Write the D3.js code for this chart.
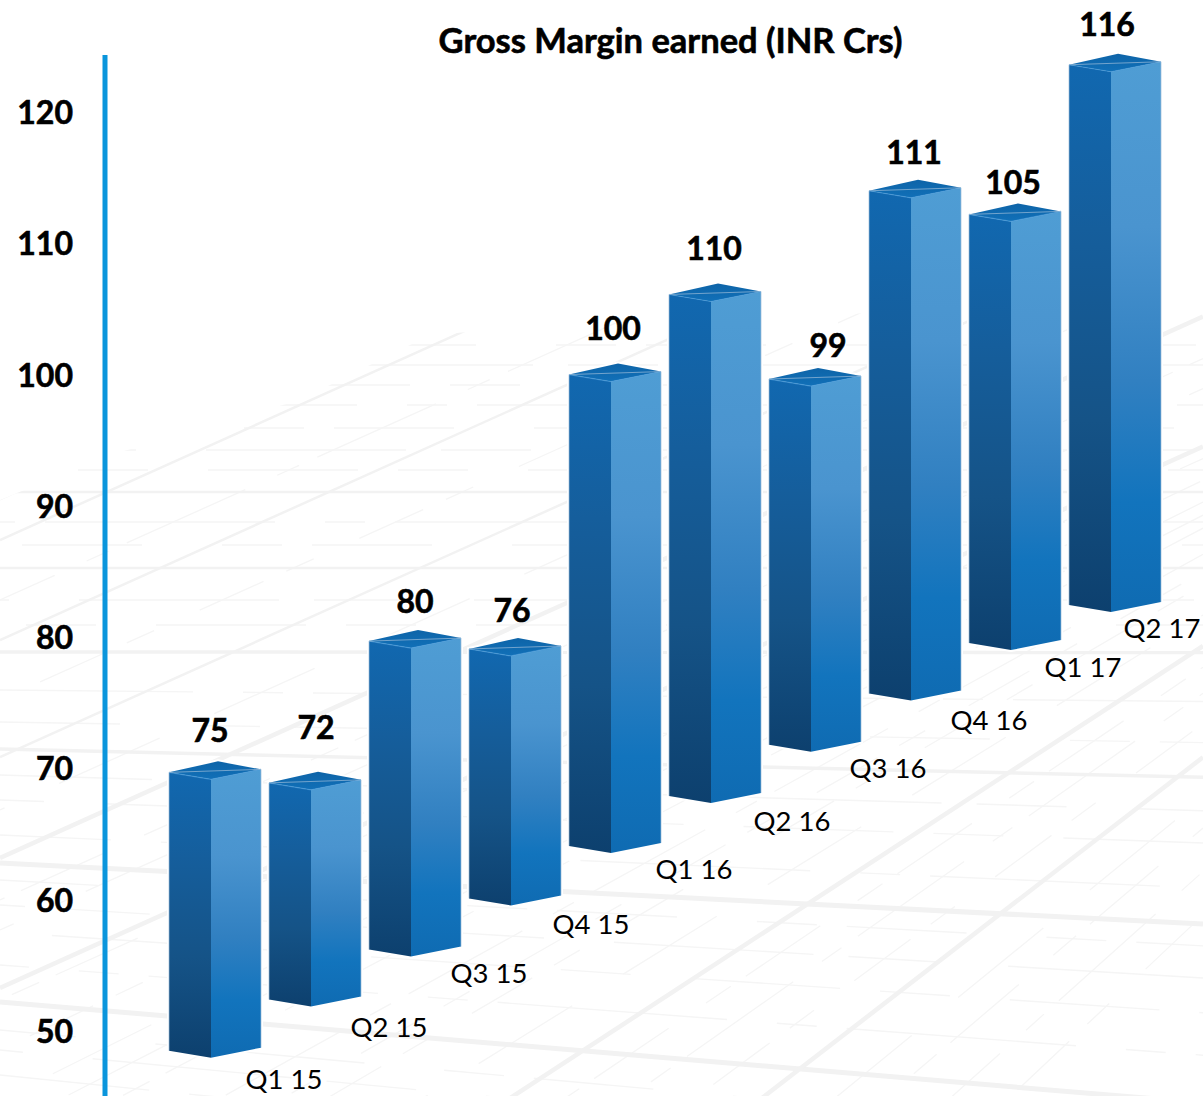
<!DOCTYPE html>
<html>
<head>
<meta charset="utf-8">
<script src="https://cdn.jsdelivr.net/npm/d3@7"></script>
<style>
  html, body { margin: 0; padding: 0; background: #fff; }
  svg { display: block; font-family: Lato, "Open Sans", sans-serif; }
</style>
</head>
<body>
<div id="chart"></div>
<script>
// Quarterly gross margin
const quarters = ["Q1 15","Q2 15","Q3 15","Q4 15","Q1 16","Q2 16","Q3 16","Q4 16","Q1 17","Q2 17"];
const grossMargin = [75, 72, 80, 76, 100, 110, 99, 111, 105, 116];
const axisTicks = [50, 60, 70, 80, 90, 100, 110, 120];
// The columns stand on a receding floor: where each base meets the floor,
// and how far its top sits off the value axis because of that depth (axis units).
const floorLevel = [48.5, 52.4, 56.2, 60.1, 64.1, 67.9, 71.8, 75.7, 79.55, 82.45];
const depthDrop = [5.3, 3.1, 0.3, -3.1, 0, 3.9, -0.66, -3.0, -7.2, -7.6];

// Label placement relative to each column
const valueNudge = [41, 47, 46, 43, 44, 45, 59, 45, 44, 38];
const valueLift = [42, 55, 40, 38, 46, 46, 34, 38, 32, 40];
const quarterNudge = [115, 120, 120, 122, 125, 123, 119, 120, 114, 93];
const quarterDrop = [28, 28, 23, 26, 23, 25, 23, 27, 24, 23];

const W = 1203, H = 1096;
const svg = d3.select("#chart").append("svg").attr("width", W).attr("height", H);
const defs = svg.append("defs");

const y = d3.scaleLinear().domain([50, 120]).range([1031, 112]);
const x = d3.scaleBand().domain(quarters).range([169, 1161]).paddingInner(0.08).paddingOuter(0);
const frontOffset = 42;

function gradient(id, stops) {
  const g = defs.append("linearGradient").attr("id", id)
    .attr("x1", 0).attr("y1", 0).attr("x2", 0).attr("y2", 1);
  stops.forEach(([o, c]) => g.append("stop").attr("offset", o).attr("stop-color", c));
}
gradient("leftFace", [[0, "#1168b0"], [0.3, "#155e9c"], [0.65, "#155387"], [1, "#0d406e"]]);
gradient("rightFace", [[0, "#4f9dd4"], [0.3, "#4a94cf"], [0.58, "#3180c1"], [0.8, "#1274bd"], [1, "#0f6bb2"]]);
gradient("topFace", [[0, "#0e64a8"], [1, "#1170b8"]]);

// Floor pattern: a faint grid whose far edge rises towards the right
defs.append("clipPath").attr("id", "floorEdge").append("polygon")
  .attr("points", "0,500 110,455 300,400 430,335 560,325 1203,300 1203,1096 0,1096");

const floor = svg.append("g").attr("clip-path", "url(#floorEdge)").attr("fill", "none").attr("stroke-linecap", "butt");
const acrossSlope = l => Math.max(0, (l - 650) / 4200);
const riseSlope = c => c < 1000 ? 0.45 : 0.45 + (c - 1000) * 0.00047;

const acrossHeavy = [1002, 863, 749, 652, 568, 492];
const acrossLight = [1075, 1050, 1030, 965, 932, 905, 880, 835, 800, 775, 722, 690, 625, 600, 545, 522, 470, 450, 428, 405, 385, 365, 345];
const riseHeavy = [1431, 1687, 988, 858, 757, 640, 540];
const riseLight = [2050, 1950, 1850, 1780, 1610, 1540, 1480, 1360, 1290, 1220, 1160, 1100, 1050, 930, 900, 810, 700, 600, 500, 450, 400, 350, 1000, 1130, 1260];

function across(l) { return `M0,${l}L${W},${l + acrossSlope(l) * W}`; }
function rise(c) { return `M0,${c}L${W},${c - riseSlope(c) * W}`; }

floor.selectAll(".acrossLight").data(acrossLight).join("path")
  .attr("d", across).attr("stroke", "#f5f5f5").attr("stroke-width", 1.4)
  .attr("stroke-dasharray", (d, i) => ["150 40 70 60", "90 70 200 35", "60 30 120 80", "230 50 40 30"][i % 4])
  .attr("stroke-dashoffset", (d, i) => i * 67);
floor.selectAll(".riseLight").data(riseLight).join("path")
  .attr("d", rise).attr("stroke", "#f5f5f5").attr("stroke-width", 1.3)
  .attr("stroke-dasharray", (d, i) => ["70 25 30 50", "130 35 24 20", "30 18 90 45", "110 60"][i % 4])
  .attr("stroke-dashoffset", (d, i) => i * 41);
floor.selectAll(".acrossHeavy").data(acrossHeavy).join("path")
  .attr("d", across).attr("stroke", "#f2f2f2").attr("stroke-width", l => l > 800 ? 5 : l > 600 ? 3.5 : 2.5);
floor.selectAll(".riseHeavy").data(riseHeavy).join("path")
  .attr("d", rise).attr("stroke", "#f2f2f2").attr("stroke-width", c => c > 800 ? 4.5 : 2.5);

// Value axis
const axis = svg.append("g").attr("transform", "translate(105,0)")
  .call(d3.axisLeft(y).tickValues(axisTicks).tickSize(0).tickPadding(32));
axis.select(".domain").remove();
axis.selectAll("text")
  .attr("font-family", "Lato, sans-serif").attr("font-size", 32).attr("font-weight", 700)
  .attr("fill", "#000").attr("stroke", "#000").attr("stroke-width", 0.6).attr("dy", "0.36em");
svg.append("line").attr("x1", 105).attr("x2", 105)
  .attr("y1", y(124.34)).attr("y2", y(45))
  .attr("stroke", "#0a95dc").attr("stroke-width", 5);

// Columns
const rows = quarters.map((q, i) => ({
  q, i, value: grossMargin[i],
  left: x(q),
  top: y(grossMargin[i] + -depthDrop[i]),
  base: y(floorLevel[i])
}));
const poly = pts => pts.map(p => p.join(",")).join(" ");
const col = svg.append("g").selectAll("g").data(rows).join("g");

col.append("polygon").attr("fill", "#fff").attr("stroke", "#fff").attr("stroke-width", 4)
  .attr("points", d => {
    const w = x.bandwidth();
    return poly([[d.left, d.top], [d.left + 49, d.top - 11], [d.left + w, d.top - 3],
      [d.left + w, d.base - 3], [d.left + frontOffset, d.base + 7], [d.left, d.base]]);
  });
col.append("polygon").attr("fill", "url(#leftFace)")
  .attr("points", d => poly([[d.left, d.top], [d.left + frontOffset, d.top + 7],
    [d.left + frontOffset, d.base + 7], [d.left, d.base]]));
col.append("polygon").attr("fill", "url(#rightFace)")
  .attr("points", d => {
    const w = x.bandwidth();
    return poly([[d.left + frontOffset, d.top + 7], [d.left + w, d.top - 3],
      [d.left + w, d.base - 3], [d.left + frontOffset, d.base + 7]]);
  });
col.append("polygon").attr("fill", "url(#topFace)")
  .attr("points", d => {
    const w = x.bandwidth();
    return poly([[d.left, d.top], [d.left + 49, d.top - 11], [d.left + w, d.top - 3], [d.left + frontOffset, d.top + 7]]);
  });
// Highlight along the front edges of the cap, soft rim on the outer sides
col.append("polyline").attr("fill", "none").attr("stroke", "#4f9fdc").attr("stroke-width", 1.2).attr("opacity", 0.6)
  .attr("points", d => poly([[d.left, d.top], [d.left + frontOffset, d.top + 7], [d.left + x.bandwidth(), d.top - 3]]));
col.append("polyline").attr("fill", "none").attr("stroke", "#9dbcd8").attr("stroke-width", 1).attr("opacity", 0.7)
  .attr("points", d => {
    const w = x.bandwidth();
    return poly([[d.left, d.base], [d.left, d.top]]) + " " + poly([[d.left + w, d.top - 3], [d.left + w, d.base - 3]]);
  });

// Value labels
svg.append("g").selectAll("text").data(rows).join("text")
  .attr("x", d => d.left + valueNudge[d.i])
  .attr("y", d => d.top - valueLift[d.i])
  .attr("dy", "0.36em").attr("text-anchor", "middle")
  .attr("font-size", 32).attr("font-weight", 700).attr("fill", "#000")
  .attr("stroke", "#000").attr("stroke-width", 0.6)
  .text(d => d.value);

// Quarter labels
svg.append("g").selectAll("text").data(rows).join("text")
  .attr("x", d => d.left + quarterNudge[d.i])
  .attr("y", d => d.base + quarterDrop[d.i])
  .attr("dy", "0.36em").attr("text-anchor", "middle")
  .attr("font-size", 27.5).attr("fill", "#000")
  .text(d => d.q);

// Title
svg.append("text").attr("x", 670.5).attr("y", 41).attr("dy", "0.36em").attr("text-anchor", "middle")
  .attr("font-size", 34.5).attr("font-weight", 700).attr("fill", "#000")
  .attr("stroke", "#000").attr("stroke-width", 0.6)
  .text("Gross Margin earned (INR Crs)");
</script>
</body>
</html>
